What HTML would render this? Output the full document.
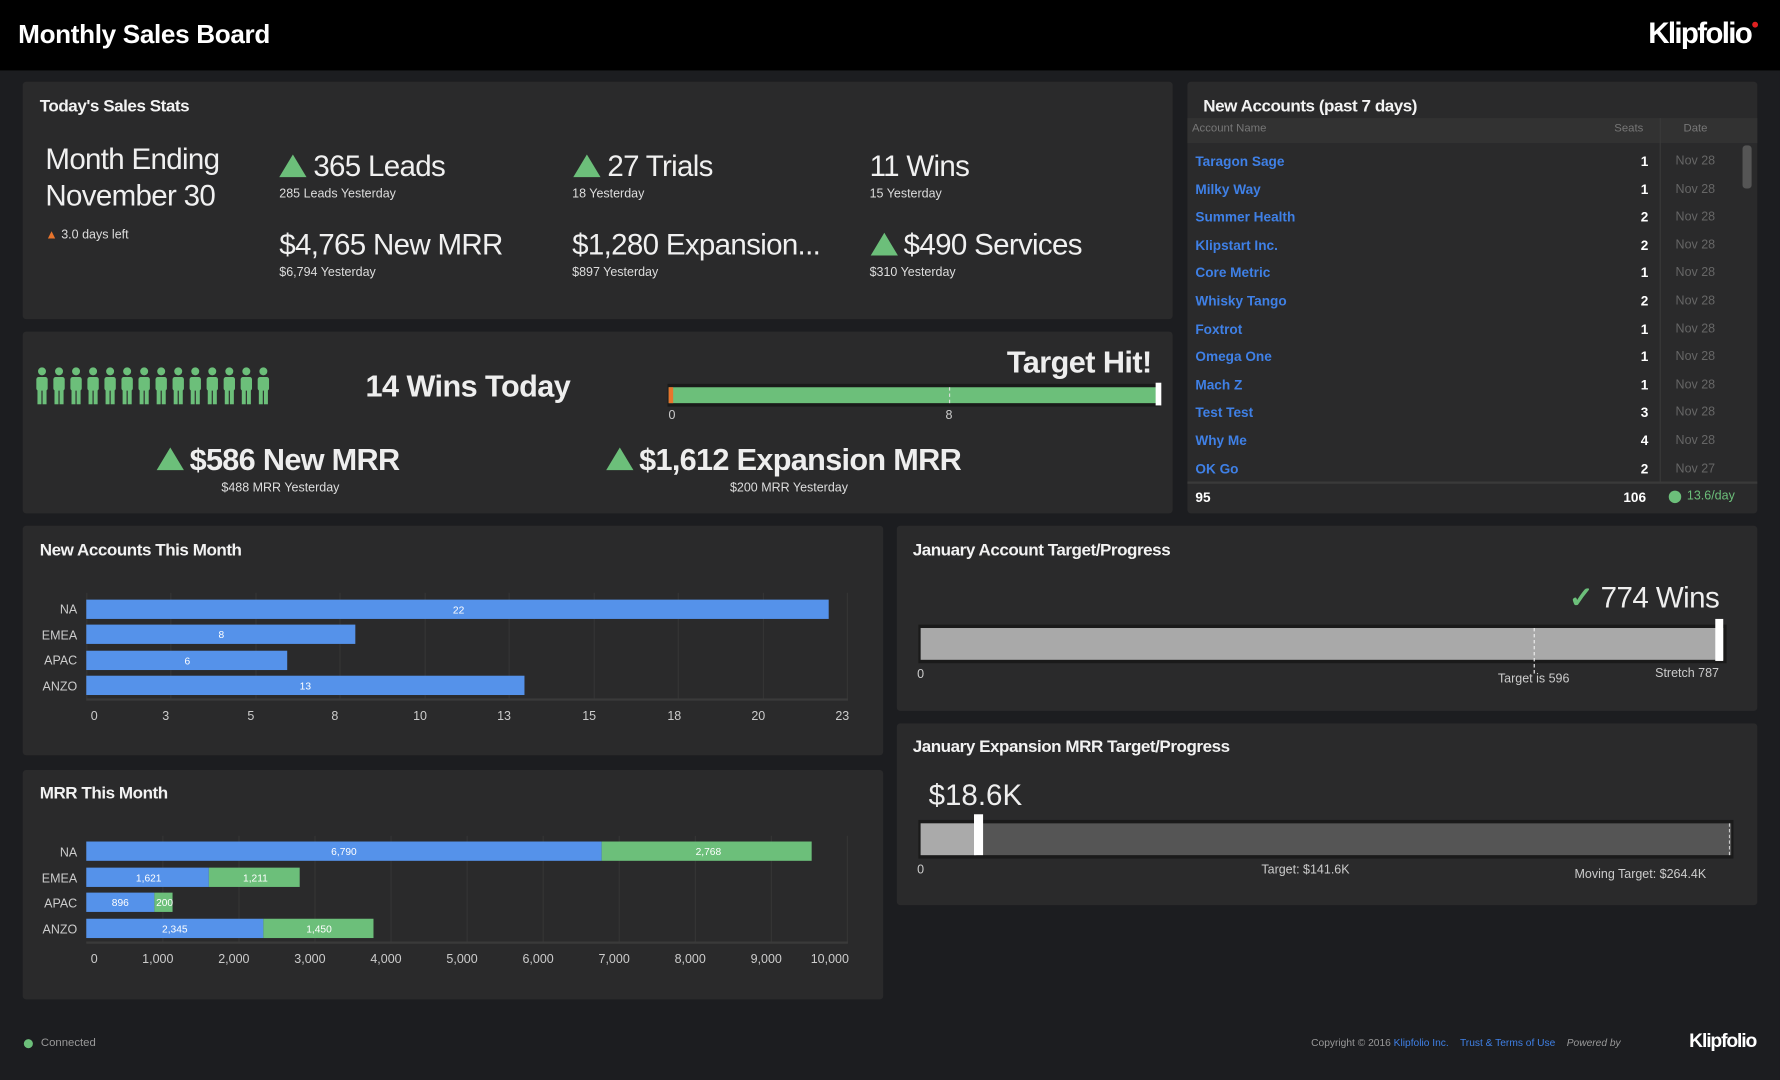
<!DOCTYPE html>
<html><head><meta charset="utf-8"><style>
*{margin:0;padding:0;box-sizing:border-box}
html,body{width:1780px;height:1080px;overflow:hidden;background:#1c1d20;font-family:"Liberation Sans",sans-serif;color:#eee}
#w{position:absolute;left:0;top:0;width:1568px;height:951px;transform:scale(1.13520,1.13565);transform-origin:0 0;background:#1c1d20}
.a{position:absolute;white-space:nowrap}
.p{position:absolute;background:#2a2a2b;border-radius:3px}
.t{font-size:15px;font-weight:bold;color:#f2f2f2;letter-spacing:-0.4px}
.big{font-size:26px;color:#f0f0f0;letter-spacing:-0.6px}
.sm{font-size:11px;color:#ddd}
.tri{width:0;height:0;border-left:12px solid transparent;border-right:12px solid transparent;border-bottom:20px solid #6cbf7a;position:absolute}
.bar{position:absolute;background:#5592ea;height:17px}
.gbar{position:absolute;background:#6cbf7a;height:17px}
.grid{position:absolute;width:1px;background:#353535}
.tick{font-size:11px;color:#ccc;transform:translateX(-50%)}
.bl{font-size:9px;color:#fff;transform:translate(-50%,0)}
.lnk{font-size:12px;font-weight:bold;color:#3f80e6}
.rowseat{font-size:12px;font-weight:bold;color:#fff;text-align:right;width:20px}
.rowdate{font-size:11px;color:#666}
</style></head><body><div id="w">
<div class="a" style="left:0;top:0;width:1568px;height:62px;background:#000"></div>
<div class="a" style="left:16px;top:17px;font-size:23px;font-weight:bold;color:#fff;letter-spacing:-0.3px">Monthly Sales Board</div>
<div class="a" style="left:1452px;top:14px;font-size:26px;font-weight:bold;color:#fff;letter-spacing:-1.5px">Klipfolio<span style="color:#e02020;font-size:12px;vertical-align:top">●</span></div>

<div class="p" style="left:20px;top:72px;width:1013px;height:209px"></div>
<div class="a t" style="left:35px;top:85px">Today's Sales Stats</div>
<div class="a big" style="left:40px;top:124px;line-height:32px">Month Ending<br>November 30</div>
<div class="a sm" style="left:40px;top:201px"><span style="color:#e8742c">▲</span> 3.0 days left</div>
<div class="tri" style="left:246px;top:136px"></div>
<div class="a big" style="left:276px;top:131px">365 Leads</div>
<div class="a sm" style="left:246px;top:165px">285 Leads Yesterday</div>
<div class="tri" style="left:505px;top:136px"></div>
<div class="a big" style="left:535px;top:131px">27 Trials</div>
<div class="a sm" style="left:504px;top:165px">18 Yesterday</div>
<div class="a big" style="left:766px;top:131px">11 Wins</div>
<div class="a sm" style="left:766px;top:165px">15 Yesterday</div>
<div class="a big" style="left:246px;top:200px">$4,765 New MRR</div>
<div class="a sm" style="left:246px;top:234px">$6,794 Yesterday</div>
<div class="a big" style="left:504px;top:200px">$1,280 Expansion...</div>
<div class="a sm" style="left:504px;top:234px">$897 Yesterday</div>
<div class="tri" style="left:767px;top:205px"></div>
<div class="a big" style="left:796px;top:200px">$490 Services</div>
<div class="a sm" style="left:766px;top:234px">$310 Yesterday</div>

<div class="p" style="left:20px;top:292px;width:1013px;height:160px"></div>
<svg class="a" style="left:30px;top:323px" width="214" height="34">
<g fill="#6cbf7a">
<g id="f"><circle cx="7" cy="4" r="3.5"/><rect x="2" y="9" width="10" height="12" rx="2"/><rect x="3" y="20" width="3.5" height="13"/><rect x="7.5" y="20" width="3.5" height="13"/></g>
<use href="#f" x="15"/><use href="#f" x="30"/><use href="#f" x="45"/><use href="#f" x="60"/><use href="#f" x="75"/><use href="#f" x="90"/><use href="#f" x="105"/><use href="#f" x="120"/><use href="#f" x="135"/><use href="#f" x="150"/><use href="#f" x="165"/><use href="#f" x="180"/><use href="#f" x="195"/>
</g></svg>
<div class="a" style="left:322px;top:325px;font-size:27px;font-weight:bold;color:#eee;letter-spacing:-0.5px">14 Wins Today</div>
<div class="a" style="left:887px;top:304px;font-size:27px;font-weight:bold;color:#eee;letter-spacing:-0.5px">Target Hit!</div>
<div class="a" style="left:588px;top:338px;width:434px;height:20px;background:#1a1a1a"></div>
<div class="a" style="left:589px;top:341px;width:432px;height:14px;background:#6cbf7a"></div>
<div class="a" style="left:589px;top:341px;width:4px;height:14px;background:#e8742c"></div>
<div class="a" style="left:1018px;top:337px;width:5px;height:20px;background:#fff"></div>
<div class="a" style="left:836px;top:341px;height:14px;border-left:1px dashed #ddd"></div>
<div class="a tick" style="left:592px;top:360px">0</div>
<div class="a tick" style="left:836px;top:360px">8</div>
<div class="tri" style="left:138px;top:394px"></div>
<div class="a" style="left:167px;top:390px;font-size:27px;font-weight:bold;color:#eee;letter-spacing:-0.6px">$586 New MRR</div>
<div class="a sm" style="left:247px;top:424px;transform:translateX(-50%)">$488 MRR Yesterday</div>
<div class="tri" style="left:534px;top:394px"></div>
<div class="a" style="left:563px;top:390px;font-size:27px;font-weight:bold;color:#eee;letter-spacing:-0.6px">$1,612 Expansion MRR</div>
<div class="a sm" style="left:695px;top:424px;transform:translateX(-50%)">$200 MRR Yesterday</div>

<div class="p" style="left:1046px;top:72px;width:502px;height:380px"></div>
<div class="a t" style="left:1060px;top:85px">New Accounts (past 7 days)</div>
<div class="a" style="left:1046px;top:104px;width:502px;height:22px;background:#323232"></div>
<div class="a" style="left:1050px;top:108px;font-size:10px;color:#777">Account Name</div>
<div class="a" style="left:1422px;top:108px;font-size:10px;color:#777">Seats</div>
<div class="a" style="left:1483px;top:108px;font-size:10px;color:#777">Date</div>
<div class="a" style="left:1462px;top:104px;width:1px;height:320px;background:#3a3a3a"></div>
<div class="a" style="left:1535px;top:128px;width:8px;height:38px;background:#555;border-radius:3px"></div>
<div class="a" style="left:1046px;top:424px;width:502px;height:2px;background:#3a3a3a"></div>
<div class="a" style="left:1053px;top:130px;line-height:24.6px" >
<div class="lnk">Taragon Sage</div><div class="lnk">Milky Way</div><div class="lnk">Summer Health</div><div class="lnk">Klipstart Inc.</div><div class="lnk">Core Metric</div><div class="lnk">Whisky Tango</div><div class="lnk">Foxtrot</div><div class="lnk">Omega One</div><div class="lnk">Mach Z</div><div class="lnk">Test Test</div><div class="lnk">Why Me</div><div class="lnk">OK Go</div></div>
<div class="a" style="left:1432px;top:130px;line-height:24.6px">
<div class="rowseat">1</div><div class="rowseat">1</div><div class="rowseat">2</div><div class="rowseat">2</div><div class="rowseat">1</div><div class="rowseat">2</div><div class="rowseat">1</div><div class="rowseat">1</div><div class="rowseat">1</div><div class="rowseat">3</div><div class="rowseat">4</div><div class="rowseat">2</div></div>
<div class="a" style="left:1476px;top:130px;line-height:24.6px">
<div class="rowdate">Nov 28</div><div class="rowdate">Nov 28</div><div class="rowdate">Nov 28</div><div class="rowdate">Nov 28</div><div class="rowdate">Nov 28</div><div class="rowdate">Nov 28</div><div class="rowdate">Nov 28</div><div class="rowdate">Nov 28</div><div class="rowdate">Nov 28</div><div class="rowdate">Nov 28</div><div class="rowdate">Nov 28</div><div class="rowdate">Nov 27</div></div>
<div class="a" style="left:1053px;top:431px;font-size:12px;font-weight:bold;color:#fff">95</div>
<div class="a" style="left:1430px;top:431px;font-size:12px;font-weight:bold;color:#fff">106</div>
<div class="a" style="left:1470px;top:432px;width:11px;height:11px;border-radius:50%;background:#6cbf7a"></div>
<div class="a" style="left:1486px;top:431px;font-size:11px;color:#6cbf7a">13.6/day</div>

<div class="p" style="left:20px;top:463px;width:758px;height:202px"></div>
<div class="a t" style="left:35px;top:476px">New Accounts This Month</div>
<div class="grid" style="left:76px;top:522px;height:94px"></div>
<div class="grid" style="left:150px;top:522px;height:94px"></div>
<div class="grid" style="left:225px;top:522px;height:94px"></div>
<div class="grid" style="left:299px;top:522px;height:94px"></div>
<div class="grid" style="left:374px;top:522px;height:94px"></div>
<div class="grid" style="left:448px;top:522px;height:94px"></div>
<div class="grid" style="left:523px;top:522px;height:94px"></div>
<div class="grid" style="left:597px;top:522px;height:94px"></div>
<div class="grid" style="left:672px;top:522px;height:94px"></div>
<div class="grid" style="left:746px;top:522px;height:94px"></div>
<div class="a" style="left:76px;top:615px;width:671px;height:2px;background:#3a3a3a"></div>
<div class="bar" style="left:76px;top:528px;width:654px"></div>
<div class="bar" style="left:76px;top:550px;width:237px"></div>
<div class="bar" style="left:76px;top:573px;width:177px"></div>
<div class="bar" style="left:76px;top:595px;width:386px"></div>
<div class="a bl" style="left:404px;top:532px">22</div>
<div class="a bl" style="left:195px;top:554px">8</div>
<div class="a bl" style="left:165px;top:577px">6</div>
<div class="a bl" style="left:269px;top:599px">13</div>
<div class="a" style="left:30px;top:526px;width:38px;text-align:right;font-size:11px;color:#ccc;line-height:22.5px">NA<br>EMEA<br>APAC<br>ANZO</div>
<div class="a tick" style="left:83px;top:625px">0</div><div class="a tick" style="left:146px;top:625px">3</div><div class="a tick" style="left:221px;top:625px">5</div><div class="a tick" style="left:295px;top:625px">8</div><div class="a tick" style="left:370px;top:625px">10</div><div class="a tick" style="left:444px;top:625px">13</div><div class="a tick" style="left:519px;top:625px">15</div><div class="a tick" style="left:594px;top:625px">18</div><div class="a tick" style="left:668px;top:625px">20</div><div class="a tick" style="left:742px;top:625px">23</div>

<div class="p" style="left:20px;top:678px;width:758px;height:202px"></div>
<div class="a t" style="left:35px;top:690px">MRR This Month</div>
<div class="grid" style="left:143px;top:736px;height:94px"></div>
<div class="grid" style="left:210px;top:736px;height:94px"></div>
<div class="grid" style="left:277px;top:736px;height:94px"></div>
<div class="grid" style="left:344px;top:736px;height:94px"></div>
<div class="grid" style="left:411px;top:736px;height:94px"></div>
<div class="grid" style="left:478px;top:736px;height:94px"></div>
<div class="grid" style="left:545px;top:736px;height:94px"></div>
<div class="grid" style="left:612px;top:736px;height:94px"></div>
<div class="grid" style="left:679px;top:736px;height:94px"></div>
<div class="grid" style="left:746px;top:736px;height:94px"></div>
<div class="a" style="left:76px;top:829px;width:671px;height:2px;background:#3a3a3a"></div>
<div class="bar" style="left:76px;top:741px;width:454px"></div><div class="gbar" style="left:530px;top:741px;width:185px"></div>
<div class="bar" style="left:76px;top:764px;width:108px"></div><div class="gbar" style="left:184px;top:764px;width:80px"></div>
<div class="bar" style="left:76px;top:786px;width:60px"></div><div class="gbar" style="left:136px;top:786px;width:16px"></div>
<div class="bar" style="left:76px;top:809px;width:156px"></div><div class="gbar" style="left:232px;top:809px;width:97px"></div>
<div class="a bl" style="left:303px;top:745px">6,790</div><div class="a bl" style="left:624px;top:745px">2,768</div>
<div class="a bl" style="left:131px;top:768px">1,621</div><div class="a bl" style="left:225px;top:768px">1,211</div>
<div class="a bl" style="left:106px;top:790px">896</div><div class="a bl" style="left:145px;top:790px">200</div>
<div class="a bl" style="left:154px;top:813px">2,345</div><div class="a bl" style="left:281px;top:813px">1,450</div>
<div class="a" style="left:30px;top:740px;width:38px;text-align:right;font-size:11px;color:#ccc;line-height:22.5px">NA<br>EMEA<br>APAC<br>ANZO</div>
<div class="a tick" style="left:83px;top:839px">0</div><div class="a tick" style="left:139px;top:839px">1,000</div><div class="a tick" style="left:206px;top:839px">2,000</div><div class="a tick" style="left:273px;top:839px">3,000</div><div class="a tick" style="left:340px;top:839px">4,000</div><div class="a tick" style="left:407px;top:839px">5,000</div><div class="a tick" style="left:474px;top:839px">6,000</div><div class="a tick" style="left:541px;top:839px">7,000</div><div class="a tick" style="left:608px;top:839px">8,000</div><div class="a tick" style="left:675px;top:839px">9,000</div><div class="a tick" style="left:731px;top:839px">10,000</div>

<div class="p" style="left:790px;top:463px;width:758px;height:163px"></div>
<div class="a t" style="left:804px;top:476px">January Account Target/Progress</div>
<div class="a" style="left:1382px;top:511px;font-size:26px;color:#eee;letter-spacing:-0.5px"><span style="color:#6cbf7a;font-weight:bold">✓</span> 774 Wins</div>
<div class="a" style="left:809px;top:550px;width:712px;height:34px;background:#1a1a1a"></div>
<div class="a" style="left:811px;top:553px;width:707px;height:28px;background:#a9a9a9"></div>
<div class="a" style="left:1351px;top:553px;height:40px;border-left:1px dashed #eee"></div>
<div class="a" style="left:1511px;top:545px;width:7px;height:37px;background:#fff"></div>
<div class="a tick" style="left:811px;top:588px">0</div>
<div class="a tick" style="left:1351px;top:592px">Target is 596</div>
<div class="a" style="left:1458px;top:587px;font-size:11px;color:#ccc">Stretch 787</div>

<div class="p" style="left:790px;top:637px;width:758px;height:160px"></div>
<div class="a t" style="left:804px;top:649px">January Expansion MRR Target/Progress</div>
<div class="a" style="left:818px;top:685px;font-size:26px;color:#eee">$18.6K</div>
<div class="a" style="left:809px;top:722px;width:718px;height:34px;background:#1a1a1a"></div>
<div class="a" style="left:811px;top:725px;width:714px;height:28px;background:#555"></div>
<div class="a" style="left:811px;top:725px;width:49px;height:28px;background:#aaa"></div>
<div class="a" style="left:1523px;top:725px;height:28px;border-left:1px dashed #ccc"></div>
<div class="a" style="left:858px;top:717px;width:8px;height:36px;background:#fff"></div>
<div class="a tick" style="left:811px;top:760px">0</div>
<div class="a tick" style="left:1150px;top:760px">Target: $141.6K</div>
<div class="a" style="left:1387px;top:764px;font-size:11px;color:#ccc">Moving Target: $264.4K</div>

<div class="a" style="left:21px;top:915px;width:8px;height:8px;border-radius:50%;background:#6cbf7a"></div>
<div class="a" style="left:36px;top:913px;font-size:10px;color:#999">Connected</div>
<div class="a" style="left:1155px;top:913px;font-size:9px;color:#999">Copyright © 2016 <span style="color:#3f80e6">Klipfolio Inc.</span> &nbsp;&nbsp; <span style="color:#3f80e6">Trust &amp; Terms of Use</span> &nbsp;&nbsp; <i>Powered by</i></div>
<div class="a" style="left:1488px;top:907px;font-size:17px;font-weight:bold;color:#fff;letter-spacing:-1px">Klipfolio</div>
</div></body></html>
